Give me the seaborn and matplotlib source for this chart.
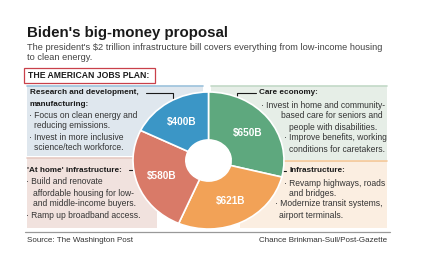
import matplotlib
matplotlib.use("Agg")
import matplotlib.pyplot as plt
from matplotlib.patches import Rectangle, Ellipse
import seaborn as sns

sns.set_theme(style="white")
plt.rcParams["font.family"] = ["Liberation Sans", "DejaVu Sans"]

# data (billions of dollars), clockwise from 12 o'clock
categories = ["Care economy", "Infrastructure", "'At home' infrastructure",
              "Research and development, manufacturing"]
values = [650, 621, 580, 400]
colors = ["#5ea87e", "#f2a257", "#d97a68", "#3b96c6"]

title = "Biden's big-money proposal"
subtitle = ("The president's $2 trillion infrastructure bill covers everything from low-income housing\n"
            "to clean energy.")
kicker = "THE AMERICAN JOBS PLAN:"
source = "Source: The Washington Post"
credit = "Chance Brinkman-Sull/Post-Gazette"

fig = plt.figure(figsize=(4.26, 2.80), dpi=100)
ax = fig.add_axes([0, 0, 1, 1])
ax.set_xlim(0, 426)
ax.set_ylim(280, 0)
ax.axis("off")

dark = "#1a1a1a"
body = "#333333"

ax.text(27, 37, title, fontsize=10.8, fontweight="bold", color=dark)
ax.text(27, 62, subtitle, fontsize=6.65, color="#444444", linespacing=1.15, va="bottom")
ax.text(28, 76, kicker, fontsize=6.2, fontweight="bold", color=dark, va="center")
ax.add_patch(Rectangle((24, 68), 131, 15, fill=False, ec="#c9404a", lw=0.9))

# panels behind the donut: x, y, w, h, fill, top rule start, top rule colour
panels = [
    (27, 86, 176, 70, "#dfe7ee", 27, "#9cc2dc"),
    (211, 86, 176, 74, "#e6eee7", 211, "#c2d9c7"),
    (27, 158, 130, 70, "#f1e2de", 27, "#e6c9c2"),
    (240, 161, 147, 67, "#fbeee1", 283, "#f3c797"),
]
for x, y, w, h, fc, x0, tc in panels:
    ax.add_patch(Rectangle((x, y), w, h, fc=fc, ec="none", zorder=0))
    ax.plot([x0, x + w], [y, y], color=tc, lw=1.2, zorder=1)

ax.plot([25, 390], [232, 232], color="#999999", lw=0.9)
ax.text(27, 240, source, fontsize=5.8, color=body, va="center")
ax.text(387, 240, credit, fontsize=5.8, color=body, va="center", ha="right")

bold = dict(fontsize=5.9, fontweight="bold", color=dark, va="center")
txt = dict(fontsize=6.15, color=body, va="center")

ax.text(30, 93, "Research and development,", **bold)
ax.text(30, 104, "manufacturing:", **bold)
ax.text(29, 116, "· Focus on clean energy and", **txt)
ax.text(34, 126, "reducing emissions.", **txt)
ax.text(29, 137, "· Invest in more inclusive", **txt)
ax.text(34, 148, "science/tech workforce.", **txt)

ax.text(259, 93, "Care economy:", **bold)
ax.text(261, 105, "· Invest in home and community-", **txt)
ax.text(281, 116, "based care for seniors and", **txt)
ax.text(289, 127, "people with disabilities.", **txt)
ax.text(284, 138, "· Improve benefits, working", **txt)
ax.text(289, 149, "conditions for caretakers.", **txt)

ax.text(27, 170, "'At home' infrastructure:", **bold)
ax.text(26, 182, "· Build and renovate", **txt)
ax.text(33, 193, "affordable housing for low-", **txt)
ax.text(33, 204, "and middle-income buyers.", **txt)
ax.text(26, 215, "· Ramp up broadband access.", **txt)

ax.text(290, 171, "Infrastructure:", **bold)
ax.text(284, 183, "· Revamp highways, roads", **txt)
ax.text(289, 194, "and bridges.", **txt)
ax.text(275, 204, "· Modernize transit systems,", **txt)
ax.text(279, 215, "airport terminals.", **txt)

# leader lines
lk = dict(color=dark, lw=0.8, zorder=3)
ax.plot([146, 173, 173], [93, 93, 104], **lk)
ax.plot([256, 237, 237], [93, 93, 104], **lk)
ax.plot([129, 146], [170, 170], **lk)
ax.plot([286, 268, 268], [171, 171, 183], **lk)

# donut, stretched like the original graphic
pax = fig.add_axes([133 / 426, 1 - 229 / 280, 151 / 426, 137 / 280])
total = sum(values)
wedges, _, autotexts = pax.pie(
    values, colors=colors, startangle=90, counterclock=False,
    wedgeprops=dict(width=0.7, edgecolor="white", linewidth=1.2),
    autopct=lambda p: f"${p * total / 100:.0f}B", pctdistance=0.66,
    textprops=dict(color="white", fontsize=7.2, fontweight="bold"),
)
# solid white hole, as in the print graphic
pax.add_patch(Ellipse((0, 0), 0.62, 0.62, fc="white", ec="none", zorder=0))
pax.set_aspect("auto")
pax.set_xlim(-1, 1)
pax.set_ylim(-1, 1)
pax.axis("off")

fig.savefig("out.png", dpi=100)
